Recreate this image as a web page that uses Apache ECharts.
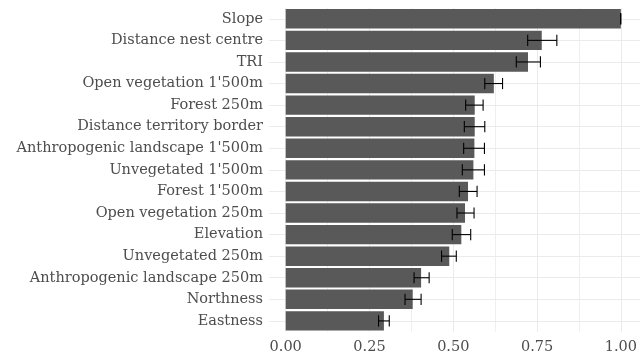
<!DOCTYPE html>
<html>
<head>
<meta charset="utf-8">
<script src="https://cdn.jsdelivr.net/npm/echarts@6/dist/echarts.min.js"></script>
<style>
html,body{margin:0;padding:0;background:#fff;}
#chart{width:640px;height:358px;}
</style>
</head>
<body>
<div id="chart"></div>
<script>
const categories = ["Slope","Distance nest centre","TRI","Open vegetation 1'500m","Forest 250m","Distance territory border","Anthropogenic landscape 1'500m","Unvegetated 1'500m","Forest 1'500m","Open vegetation 250m","Elevation","Unvegetated 250m","Anthropogenic landscape 250m","Northness","Eastness"];
const importance = [1.000,0.764,0.723,0.621,0.564,0.564,0.563,0.560,0.544,0.535,0.524,0.488,0.404,0.379,0.293];
const errLow  = [0.999,0.722,0.688,0.594,0.537,0.533,0.531,0.527,0.518,0.511,0.497,0.465,0.383,0.356,0.277];
const errHigh = [1.000,0.809,0.760,0.647,0.589,0.594,0.593,0.593,0.571,0.562,0.552,0.509,0.428,0.404,0.309];

const FONT = 'DejaVu Serif';
const TXT = '#4d4d4d';
const GRIDC = '#ebebeb';

const chart = echarts.init(document.getElementById('chart'), null, {renderer:'canvas'});
const gTop = 8, gBottom = 26.3;
chart.setOption({
  animation:false,
  backgroundColor:'#ffffff',
  grid:[
    {left:269, right:0, top:gTop, bottom:gBottom},
    {left:285.7, width:337, top:gTop, bottom:gBottom}
  ],
  xAxis:[
    {gridIndex:0, type:'value', min:0, max:1, show:false},
    {gridIndex:1, type:'value', min:0, max:1, interval:0.25,
      axisLine:{show:false}, axisTick:{show:false},
      axisLabel:{color:TXT, fontFamily:FONT, fontSize:14.5, margin:8, formatter:v=>v.toFixed(2)},
      splitLine:{show:true, lineStyle:{color:GRIDC, width:1}},
      minorTick:{show:false, splitNumber:2},
      minorSplitLine:{show:true, lineStyle:{color:GRIDC, width:0.8}}
    }
  ],
  yAxis:[
    {gridIndex:0, type:'category', data:categories, inverse:true,
      axisLine:{show:false}, axisTick:{show:false},
      axisLabel:{color:TXT, fontFamily:FONT, fontSize:14.5, margin:6},
      splitLine:{show:true, alignWithLabel:true, lineStyle:{color:GRIDC, width:1}}
    },
    {gridIndex:1, type:'category', data:categories, inverse:true, show:false}
  ],
  series:[
    {type:'bar', xAxisIndex:1, yAxisIndex:1, data:importance, barCategoryGap:'10%',
      itemStyle:{color:'#595959'}, z:2},
    {type:'custom', xAxisIndex:1, yAxisIndex:1, z:3,
      data: categories.map((c,i)=>[errLow[i], errHigh[i], i]),
      encode:{x:[0,1], y:2},
      renderItem:function(params, api){
        const y = api.value(2);
        const lo = api.coord([api.value(0), y]);
        const hi = api.coord([api.value(1), y]);
        const h = api.size([0,1])[1]*0.26;
        const st = {stroke:'#000', lineWidth:1.1};
        return {type:'group', children:[
          {type:'line', shape:{x1:lo[0],y1:lo[1],x2:hi[0],y2:hi[1]}, style:st},
          {type:'line', shape:{x1:lo[0],y1:lo[1]-h,x2:lo[0],y2:lo[1]+h}, style:st},
          {type:'line', shape:{x1:hi[0],y1:hi[1]-h,x2:hi[0],y2:hi[1]+h}, style:st}
        ]};
      }
    }
  ]
});
</script>
</body>
</html>
